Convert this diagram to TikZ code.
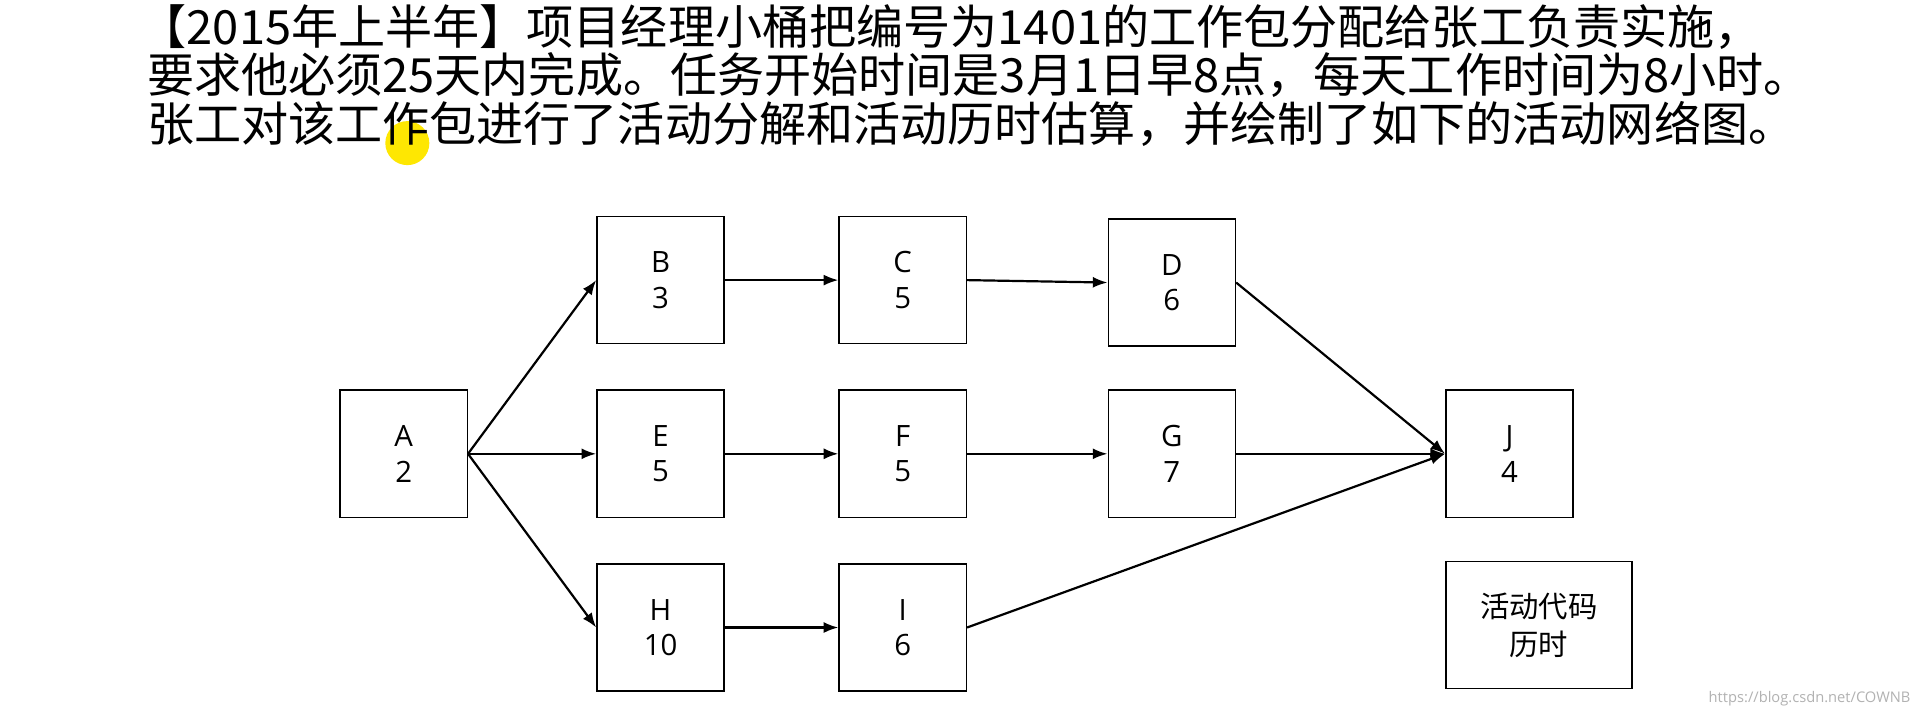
\documentclass[tikz,border=0pt]{standalone}
\usepackage{fontspec}
\setmainfont{Noto Sans CJK SC}
\newfontfamily\lat{Open Sans}
\usetikzlibrary{arrows.meta}
\begin{document}
\begin{tikzpicture}[x=1pt,y=-1pt,
 bx/.style={draw,line width=1.2pt,minimum width=104pt,minimum height=104pt,inner sep=0pt,align=center,font=\fontsize{24}{29}\selectfont\lat},
 ar/.style={-{Latex[length=12pt,width=9pt]},line width=1.8pt},
 tt/.style={anchor=base west,font=\fontsize{38.5}{41}\selectfont,inner sep=0}]
\useasboundingbox (0,0) rectangle (1568,585);
\fill[white] (0,0) rectangle (1568,585);
\fill[yellow!90!orange] (333,117) circle (18pt);
\node[tt] (t1) at (114,36) {【2015年上半年】项目经理小桶把编号为1401的工作包分配给张工负责实施，};
\node[tt] (t2) at (120,76) {要求他必须25天内完成。任务开始时间是3月1日早8点，每天工作时间为8小时。};
\node[tt] (t3) at (120,116) {张工对该工作包进行了活动分解和活动历时估算，并绘制了如下的活动网络图。};
\node[bx] (A) at (330,371) {A\\2};
\node[bx] (B) at (540,229) {B\\3};
\node[bx] (C) at (738,229) {C\\5};
\node[bx] (D) at (958,231) {D\\6};
\node[bx] (E) at (540,371) {E\\5};
\node[bx] (F) at (738,371) {F\\5};
\node[bx] (G) at (958,371) {G\\7};
\node[bx] (J) at (1234,371) {J\\4};
\node[bx] (H) at (540,513) {H\\10};
\node[bx] (I) at (738,513) {I\\6};
\node[bx,minimum width=152pt,font=\fontsize{24}{31}\selectfont] (L) at (1258,511) {活动代码\\历时};
\draw[ar] (A.east) -- (B.west);
\draw[ar] (A.east) -- (E.west);
\draw[ar] (A.east) -- (H.west);
\draw[ar] (B) -- (C);
\draw[ar] (C.east) -- (D.west);
\draw[ar] (E) -- (F);
\draw[ar] (F) -- (G);
\draw[ar] (H) -- (I);
\draw[ar] (D.east) -- (J.west);
\draw[ar] (G) -- (J);
\draw[ar] (I.east) -- (J.west);
\node[anchor=base east,font=\fontsize{12}{14}\selectfont\lat,text=gray!60,inner sep=0] (w) at (1562,574) {https://blog.csdn.net/COWNB};
\end{tikzpicture}
\end{document}
